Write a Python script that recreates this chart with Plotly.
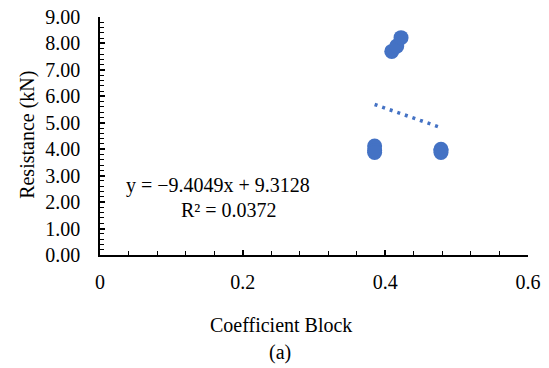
import numpy as np
import plotly.graph_objects as go

# Measured specimens: block coefficient vs. resistance
coef_block = [0.385, 0.385, 0.385, 0.409, 0.416, 0.422, 0.478, 0.478, 0.478]
resistance_kn = [4.12, 3.95, 3.88, 7.70, 7.90, 8.22, 4.00, 3.95, 3.88]

# Linear trendline as reported on the chart
slope = -9.4049
intercept = 9.3128
r_squared = 0.0372

x_ticks = [0, 0.2, 0.4, 0.6]
x_tick_text = ["0", "0.2", "0.4", "0.6"]

BLUE = "#4472C4"
FONT = "Liberation Serif"

fig = go.Figure()

fig.add_trace(go.Scatter(
    x=coef_block, y=resistance_kn, mode="markers",
    marker=dict(size=15, color=BLUE, line=dict(width=0)),
    showlegend=False, hoverinfo="skip",
))

trend_x = np.array([min(coef_block), max(coef_block)])
trend_y = slope * trend_x + intercept
fig.add_trace(go.Scatter(
    x=trend_x, y=trend_y, mode="lines",
    line=dict(color=BLUE, width=3.5, dash="3px,5px"),
    showlegend=False, hoverinfo="skip",
))

axis_common = dict(
    showline=True, linecolor="black", linewidth=1.6,
    showgrid=False, zeroline=False, automargin=False,
    ticks="inside", ticklen=5, tickwidth=1.6, tickcolor="black",
    tickfont=dict(family=FONT, size=20, color="black"),
)

fig.update_xaxes(
    range=[0, 0.6], tickvals=x_ticks, ticktext=x_tick_text,
    minor=dict(dtick=0.04, ticks="inside", ticklen=4, tickwidth=1.4, tickcolor="black"),
    ticklabelstandoff=8,
    **axis_common,
)
fig.update_yaxes(
    range=[0, 9], dtick=1, tickformat=".2f",
    minor=dict(dtick=0.2, ticks="inside", ticklen=4, tickwidth=1.4, tickcolor="black"),
    ticklabelstandoff=14,
    **axis_common,
)

eq_text = f"y = \u2212{abs(slope):.4f}x + {intercept:.4f}"
r2_text = f"R\u00b2 = {r_squared:.4f}"

def label(text, x, y, **kw):
    fig.add_annotation(
        text=text, x=x, y=y, xref="paper", yref="paper",
        showarrow=False, xanchor="center", yanchor="middle",
        font=dict(family=FONT, size=20, color="black"), **kw,
    )

label(eq_text, 0.276, 0.294)
label(r2_text, 0.301, 0.189)
label("Coefficient Block", 0.423, -0.294)
label("(a)", 0.42, -0.408)
label("Resistance (kN)", -0.171, 0.504, textangle=-90)

fig.update_layout(
    width=549, height=368, autosize=False,
    margin=dict(l=100, r=21, t=17, b=113),
    paper_bgcolor="white", plot_bgcolor="white",
    font=dict(family=FONT, size=20, color="black"),
)

fig.write_html("out.html")
